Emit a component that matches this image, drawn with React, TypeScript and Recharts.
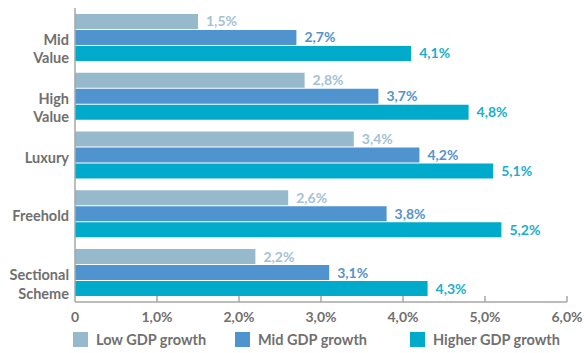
import React from 'react';
import { BarChart, Bar, XAxis, YAxis, LabelList } from 'recharts';

const categories = ['Mid Value', 'High Value', 'Luxury', 'Freehold', 'Sectional Scheme'];
const lowGrowth = [1.5, 2.8, 3.4, 2.6, 2.2];
const midGrowth = [2.7, 3.7, 4.2, 3.8, 3.1];
const higherGrowth = [4.1, 4.8, 5.1, 5.2, 4.3];
const xTicks = [0, 1, 2, 3, 4, 5, 6];

const seriesNames = ['Low GDP growth', 'Mid GDP growth', 'Higher GDP growth'];
const seriesColors = ['#97b9cc', '#4f93cf', '#00aacb'];
const labelColors = ['#a3c2d4', '#5592cc', '#18afcc'];

const data = categories.map((name, i) => ({
  name,
  low: lowGrowth[i],
  mid: midGrowth[i],
  high: higherGrowth[i],
}));

const FONT = 'Lato, sans-serif';
const GREY = '#707070';
const AXIS = '#a6a6a6';

const pct = (v: number) => (v === 0 ? '0' : v.toFixed(1).replace('.', ',') + '%');

const YTick = (props: any) => {
  const { x, y, payload } = props;
  const words: string[] = payload.value.split(' ');
  return (
    <g>
      {words.map((w, i) => (
        <text
          key={i}
          x={x}
          y={y + 2 + i * 18.5}
          textAnchor="end"
          dominantBaseline="central"
          fill={GREY}
          fontFamily={FONT}
          fontWeight={700}
          fontSize={14.5}
        >
          {w}
        </text>
      ))}
    </g>
  );
};

const XTick = (props: any) => {
  const { x, y, payload } = props;
  return (
    <g>
      {payload.value !== 0 && <line x1={x} x2={x} y1={y - 6} y2={y} stroke={AXIS} strokeWidth={1.5} />}
      <text
        x={x}
        y={y + 14}
        textAnchor="middle"
        dominantBaseline="central"
        fill={GREY}
        fontFamily={FONT}
        fontWeight={700}
        fontSize={14}
      >
        {pct(payload.value)}
      </text>
    </g>
  );
};

const legendWidths = [162, 175, 170];

export default function App() {
  const keys = ['low', 'mid', 'high'];
  return (
    <div style={{ position: 'absolute', left: 0, top: 0, width: 584, height: 353, background: '#fff' }}>
      <BarChart
        width={584}
        height={353}
        data={data}
        layout="vertical"
        margin={{ top: 8, right: 17, left: 0, bottom: 23 }}
        barCategoryGap="10%"
        barGap={1}
      >
        {keys.map((k, i) => (
          <Bar key={k} dataKey={k} fill={seriesColors[i]} isAnimationActive={false}>
            <LabelList
              dataKey={k}
              position="right"
              offset={8}
              formatter={(v: any) => pct(Number(v))}
              fill={labelColors[i]}
              fontFamily={FONT}
              fontWeight={700}
              fontSize={14}
            />
          </Bar>
        ))}
        <XAxis
          type="number"
          domain={[0, 6]}
          ticks={xTicks}
          tick={<XTick />}
          tickLine={false}
          tickSize={0}
          tickMargin={0}
          height={28}
          axisLine={{ stroke: AXIS, strokeWidth: 1.5 }}
          interval={0}
        />
        <YAxis
          type="category"
          dataKey="name"
          width={75}
          tick={<YTick />}
          tickLine={false}
          tickSize={0}
          tickMargin={6}
          axisLine={{ stroke: AXIS, strokeWidth: 1.5 }}
          interval={0}
        />
      </BarChart>
      <div
        style={{
          position: 'absolute',
          left: 73,
          top: 332,
          display: 'flex',
          fontFamily: FONT,
          fontWeight: 700,
          fontSize: 14.5,
          color: GREY,
        }}
      >
        {seriesNames.map((n, i) => (
          <div key={n} style={{ display: 'flex', alignItems: 'center', width: legendWidths[i] }}>
            <span style={{ display: 'inline-block', width: 15, height: 15, background: seriesColors[i], marginRight: 8 }} />
            <span style={{ lineHeight: '15px' }}>{n}</span>
          </div>
        ))}
      </div>
    </div>
  );
}
